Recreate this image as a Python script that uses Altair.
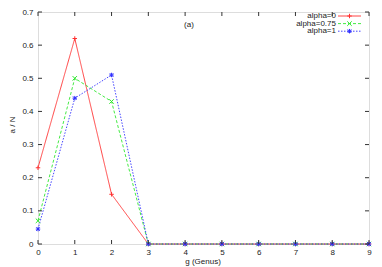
import altair as alt
import pandas as pd

genus = [0, 1, 2, 3, 4, 5, 6, 7, 8, 9]
alpha0 = [0.23, 0.62, 0.15, 0, 0, 0, 0, 0, 0, 0]
alpha075 = [0.07, 0.50, 0.43, 0, 0, 0, 0, 0, 0, 0]
alpha1 = [0.045, 0.44, 0.51, 0, 0, 0, 0, 0, 0, 0]
series_names = ["alpha=0", "alpha=0.75", "alpha=1"]
x_ticks = [0, 1, 2, 3, 4, 5, 6, 7, 8, 9]
y_ticks = [0, 0.1, 0.2, 0.3, 0.4, 0.5, 0.6, 0.7]

W, H = 331, 232
FONT = "Liberation Sans"
colors = ["#ff3030", "#30e830", "#3030ff"]
dashes = [[1, 0], [3, 2], [1.5, 1.5]]
shapes = [
    "M-1,0L1,0M0,-1L0,1",
    "M-1,-1L1,1M-1,1L1,-1",
    "M-1,0L1,0M0,-1L0,1M-0.8,-0.8L0.8,0.8M-0.8,0.8L0.8,-0.8",
]

rows = []
for name, vals in zip(series_names, [alpha0, alpha075, alpha1]):
    for g, v in zip(genus, vals):
        rows.append({"g": g, "v": v, "series": name})
df = pd.DataFrame(rows)

xs = alt.Scale(domain=[0, 9], nice=False)
ys = alt.Scale(domain=[0, 0.7], nice=False)
xaxis = alt.Axis(values=x_ticks, ticks=False, domain=False, grid=False, labelFont=FONT,
                 labelFontSize=8, labelColor="#222", labelPadding=4, title=None,
                 labelFlush=False, labelOverlap=False)
yaxis = alt.Axis(values=y_ticks, ticks=False, domain=False, grid=False, labelFont=FONT,
                 labelFontSize=8, labelColor="#222", labelPadding=5, title=None, format="~g",
                 labelOverlap=False, labelFlush=False)

cscale = alt.Scale(domain=series_names, range=colors)
dscale = alt.Scale(domain=series_names, range=dashes)
sscale = alt.Scale(domain=series_names, range=shapes)

base = alt.Chart(df)
lines = base.mark_line(strokeWidth=0.9).encode(
    x=alt.X("g:Q", scale=xs, axis=xaxis),
    y=alt.Y("v:Q", scale=ys, axis=yaxis),
    color=alt.Color("series:N", scale=cscale, legend=None),
    strokeDash=alt.StrokeDash("series:N", scale=dscale, legend=None),
    order=alt.Order("g:Q"),
)
points = base.mark_point(filled=False, size=20, strokeWidth=1, opacity=1).encode(
    x=alt.X("g:Q", scale=xs, axis=xaxis),
    y=alt.Y("v:Q", scale=ys, axis=yaxis),
    color=alt.Color("series:N", scale=cscale, legend=None),
    shape=alt.Shape("series:N", scale=sscale, legend=None),
)

xt = pd.DataFrame({"t": x_ticks})
yt = pd.DataFrame({"t": y_ticks})
tick_color = "#333"
xb = alt.Chart(xt).mark_rule(color=tick_color, strokeWidth=1).encode(
    x=alt.X("t:Q", scale=xs, axis=xaxis), y=alt.value(H), y2=alt.value(H - 4))
xtp = alt.Chart(xt).mark_rule(color=tick_color, strokeWidth=1).encode(
    x=alt.X("t:Q", scale=xs, axis=xaxis), y=alt.value(0), y2=alt.value(4))
yl = alt.Chart(yt).mark_rule(color=tick_color, strokeWidth=1).encode(
    y=alt.Y("t:Q", scale=ys, axis=yaxis), x=alt.value(0), x2=alt.value(4))
yr = alt.Chart(yt).mark_rule(color=tick_color, strokeWidth=1).encode(
    y=alt.Y("t:Q", scale=ys, axis=yaxis), x=alt.value(W), x2=alt.value(W - 4))

one = pd.DataFrame({"k": [0]})
ylabel = alt.Chart(one).mark_text(text="a / N", angle=270, font=FONT, fontSize=8, color="#222",
                                  baseline="middle", align="center").encode(
    x=alt.value(-25), y=alt.value(113))
xlabel = alt.Chart(one).mark_text(text="g (Genus)", font=FONT, fontSize=8, color="#222",
                                  baseline="middle", align="center").encode(
    x=alt.value(165), y=alt.value(250))
atext = alt.Chart(one).mark_text(text="(a)", font=FONT, fontSize=8, color="#222",
                                 baseline="middle", align="center").encode(
    x=alt.value(151), y=alt.value(13))

legend_layers = []
for i, name in enumerate(series_names):
    yy = 4 + 7.6 * i
    legend_layers.append(alt.Chart(pd.DataFrame({"s": [name]})).mark_text(
        font=FONT, fontSize=8, color="#222", align="right", baseline="middle").encode(
        text="s:N", x=alt.value(298), y=alt.value(yy)))
    legend_layers.append(alt.Chart(one).mark_rule(color=colors[i], strokeWidth=0.9,
                                                    strokeDash=dashes[i]).encode(
        x=alt.value(300), x2=alt.value(323), y=alt.value(yy)))
    legend_layers.append(alt.Chart(one).mark_point(filled=False, size=20, strokeWidth=1,
                                                     shape=shapes[i], color=colors[i], opacity=1).encode(
        x=alt.value(311.5), y=alt.value(yy)))

chart = alt.layer(lines, points, xb, xtp, yl, yr, ylabel, xlabel, atext, *legend_layers).properties(
    width=W, height=H,
    autosize=alt.AutoSizeParams(type="none"),
    padding={"left": 30, "top": 4, "right": 5, "bottom": 22},
).configure_view(stroke="#333", strokeWidth=1).configure(background="white")

chart.save("out.html", embed_options={"renderer": "svg", "actions": False})
